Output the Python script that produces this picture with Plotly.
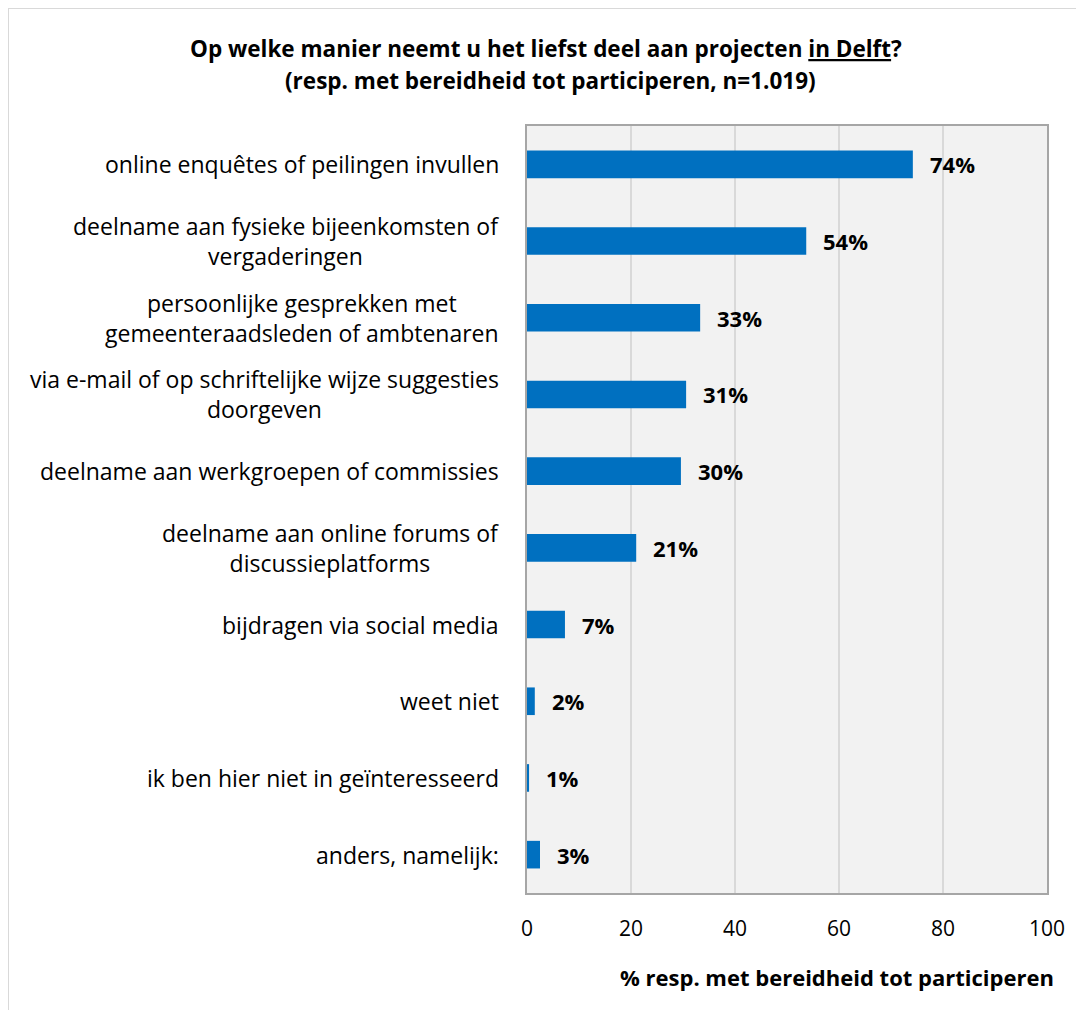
import plotly.graph_objects as go

categories = [
    "online enquêtes of peilingen invullen",
    "deelname aan fysieke bijeenkomsten of<br>vergaderingen",
    "persoonlijke gesprekken met<br>gemeenteraadsleden of ambtenaren",
    "via e-mail of op schriftelijke wijze suggesties<br>doorgeven",
    "deelname aan werkgroepen of commissies",
    "deelname aan online forums of<br>discussieplatforms",
    "bijdragen via social media",
    "weet niet",
    "ik ben hier niet in geïnteresseerd",
    "anders, namelijk:",
]
values = [74.2, 53.7, 33.3, 30.6, 29.6, 21.0, 7.3, 1.5, 0.4, 2.5]
value_labels = ["74%", "54%", "33%", "31%", "30%", "21%", "7%", "2%", "1%", "3%"]
x_ticks = [0, 20, 40, 60, 80, 100]

title_line1 = "Op welke manier neemt u het liefst deel aan projecten <u>in Delft</u>?"
title_line2 = "(resp. met bereidheid tot participeren, n=1.019)"
x_title = "% resp. met bereidheid tot participeren"

# page has an 8px body margin, so the figure is drawn 8px smaller
W, H = 1076, 1002
L, R, T, B = 519, 37, 118, 117
FONT = "Open Sans"

fig = go.Figure()
fig.add_trace(go.Bar(
    y=categories, x=values, orientation="h",
    marker=dict(color="#0070C0", line=dict(width=0)),
    width=0.36, hoverinfo="skip",
))

# category labels (centered multi-line, right-anchored)
for c in categories:
    fig.add_annotation(x=0, y=c, xref="x", yref="y", text=c, showarrow=False,
                       xanchor="right", yanchor="middle", align="center", xshift=-26,
                       font=dict(family=FONT, size=23, color="#000000"))

# value labels
for c, v, t in zip(categories, values, value_labels):
    fig.add_annotation(x=v, y=c, xref="x", yref="y", text="<b>%s</b>" % t, showarrow=False,
                       xanchor="left", yanchor="middle", xshift=15,
                       font=dict(family=FONT, size=22, color="#000000"))

px = lambda p: (p - L) / (W - L - R)
py = lambda p: (H - B - p) / (H - T - B)

# title lines
fig.add_annotation(x=px(537.5), y=py(40), xref="paper", yref="paper", text="<b>%s</b>" % title_line1,
                   showarrow=False, xanchor="center", yanchor="middle",
                   font=dict(family=FONT, size=22.5, color="#000000"))
fig.add_annotation(x=px(542.5), y=py(72), xref="paper", yref="paper", text="<b>%s</b>" % title_line2,
                   showarrow=False, xanchor="center", yanchor="middle",
                   font=dict(family=FONT, size=22.5, color="#000000"))

# x-axis title (offset to the right as in the reference)
fig.add_annotation(x=px(828.5), y=py(969), xref="paper", yref="paper", text="<b>%s</b>" % x_title,
                   showarrow=False, xanchor="center", yanchor="middle",
                   font=dict(family=FONT, size=22, color="#000000"))

# outer frame (left and top edges)
fig.add_shape(type="line", xref="paper", yref="paper", x0=px(0), x1=px(W + 5), y0=py(0), y1=py(0),
              line=dict(color="#D9D9D9", width=2))
fig.add_shape(type="line", xref="paper", yref="paper", x0=px(0), x1=px(0), y0=py(0), y1=py(H + 5),
              line=dict(color="#D9D9D9", width=2))

fig.update_layout(
    width=W, height=H,
    margin=dict(l=L, r=R, t=T, b=B),
    paper_bgcolor="#FFFFFF",
    plot_bgcolor="#F2F2F2",
    showlegend=False,
    xaxis=dict(
        range=[0, 100], tickvals=x_ticks, ticktext=[str(t) for t in x_ticks],
        showgrid=True, gridcolor="#D9D9D9", gridwidth=2,
        zeroline=False, showline=True, linecolor="#A6A6A6", linewidth=2, mirror=True,
        ticks="", tickfont=dict(family=FONT, size=21, color="#000000"),
        ticklabelstandoff=16,
        fixedrange=True,
    ),
    yaxis=dict(
        categoryorder="array", categoryarray=categories, autorange="reversed",
        showticklabels=False, showgrid=False, zeroline=False,
        showline=True, linecolor="#A6A6A6", linewidth=2, mirror=True,
        fixedrange=True,
    ),
)

fig.write_html("out.html")
